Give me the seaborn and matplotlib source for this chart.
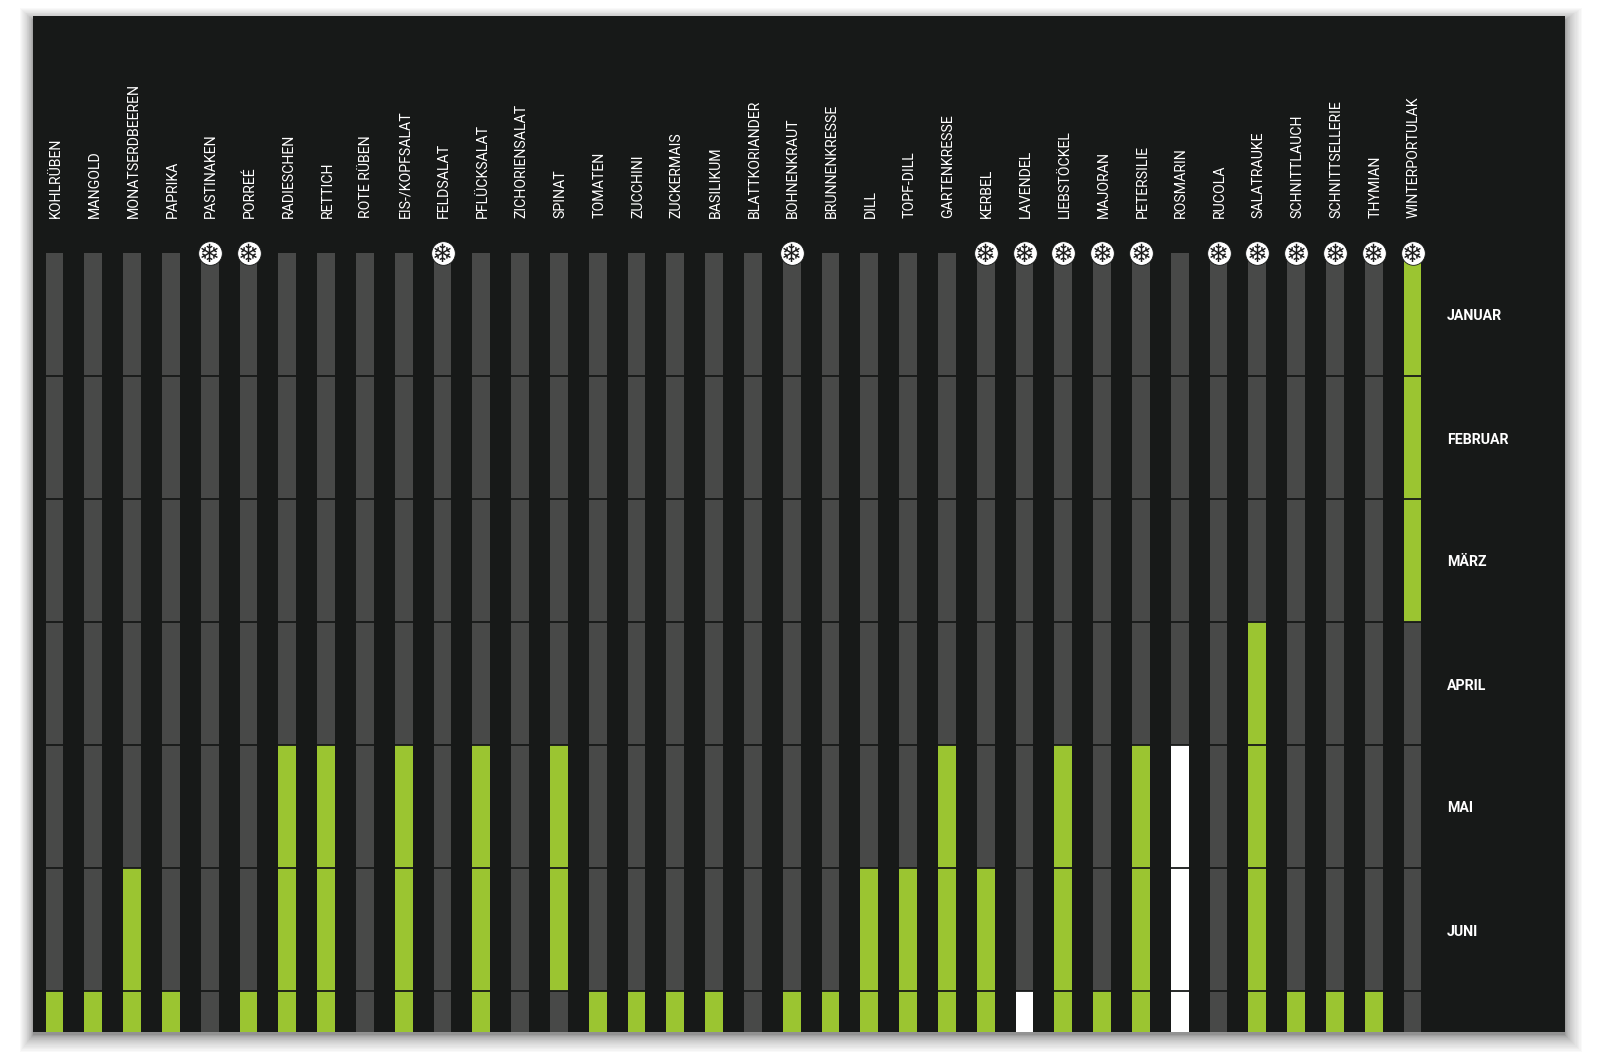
import matplotlib
matplotlib.use('Agg')
import matplotlib.pyplot as plt
from matplotlib.patches import Rectangle
import numpy as np
import pandas as pd
import seaborn as sns

crops = ['KOHLRÜBEN', 'MANGOLD', 'MONATSERDBEEREN', 'PAPRIKA', 'PASTINAKEN', 'PORREÉ',
         'RADIESCHEN', 'RETTICH', 'ROTE RÜBEN', 'EIS-/KOPFSALAT', 'FELDSALAT', 'PFLÜCKSALAT',
         'ZICHORIENSALAT', 'SPINAT', 'TOMATEN', 'ZUCCHINI', 'ZUCKERMAIS', 'BASILIKUM',
         'BLATTKORIANDER', 'BOHNENKRAUT', 'BRUNNENKRESSE', 'DILL', 'TOPF-DILL', 'GARTENKRESSE',
         'KERBEL', 'LAVENDEL', 'LIEBSTÖCKEL', 'MAJORAN', 'PETERSILIE', 'ROSMARIN',
         'RUCOLA', 'SALATRAUKE', 'SCHNITTLAUCH', 'SCHNITTSELLERIE', 'THYMIAN', 'WINTERPORTULAK']
months = ['JANUAR', 'FEBRUAR', 'MÄRZ', 'APRIL', 'MAI', 'JUNI']

# share of each row that is visible, the seventh row is cut off by the panel edge
row_share = [1, 1, 1, 1, 1, 1, 0.333]

green_jan = ['WINTERPORTULAK']
green_feb = ['WINTERPORTULAK']
green_mar = ['WINTERPORTULAK']
green_apr = ['SALATRAUKE']
green_mai = ['RADIESCHEN', 'RETTICH', 'EIS-/KOPFSALAT', 'PFLÜCKSALAT', 'SPINAT', 'GARTENKRESSE',
             'LIEBSTÖCKEL', 'PETERSILIE', 'SALATRAUKE']
green_jun = ['MONATSERDBEEREN', 'RADIESCHEN', 'RETTICH', 'EIS-/KOPFSALAT', 'PFLÜCKSALAT', 'SPINAT',
             'DILL', 'TOPF-DILL', 'GARTENKRESSE', 'KERBEL', 'LIEBSTÖCKEL', 'PETERSILIE', 'SALATRAUKE']
green_jul = ['KOHLRÜBEN', 'MANGOLD', 'MONATSERDBEEREN', 'PAPRIKA', 'PORREÉ', 'RADIESCHEN', 'RETTICH',
             'EIS-/KOPFSALAT', 'PFLÜCKSALAT', 'TOMATEN', 'ZUCCHINI', 'ZUCKERMAIS', 'BASILIKUM',
             'BOHNENKRAUT', 'BRUNNENKRESSE', 'DILL', 'TOPF-DILL', 'GARTENKRESSE', 'KERBEL',
             'LIEBSTÖCKEL', 'MAJORAN', 'PETERSILIE', 'SALATRAUKE', 'SCHNITTLAUCH',
             'SCHNITTSELLERIE', 'THYMIAN']
white_mai = ['ROSMARIN']
white_jun = ['ROSMARIN']
white_jul = ['LAVENDEL', 'ROSMARIN']
frost_hardy = ['PASTINAKEN', 'PORREÉ', 'FELDSALAT', 'BOHNENKRAUT', 'KERBEL', 'LAVENDEL', 'LIEBSTÖCKEL',
               'MAJORAN', 'PETERSILIE', 'RUCOLA', 'SALATRAUKE', 'SCHNITTLAUCH', 'SCHNITTSELLERIE',
               'THYMIAN', 'WINTERPORTULAK']

greens = [green_jan, green_feb, green_mar, green_apr, green_mai, green_jun, green_jul]
whites = [[], [], [], [], white_mai, white_jun, white_jul]

BG = '#171918'
GREY = '#484948'
GREEN = '#9bc531'
palette = {'off': GREY, 'green': GREEN, 'white': '#ffffff'}

rows = []
for m in range(7):
    for c in crops:
        status = 'green' if c in greens[m] else 'white' if c in whites[m] else 'off'
        rows.append({'crop': c, 'row': m, 'status': status, 'share': row_share[m]})
df = pd.DataFrame(rows)

sns.set_theme(style='white')
plt.rcParams['font.family'] = ['Roboto', 'DejaVu Sans']

W, H = 1600, 1060
fig = plt.figure(figsize=(W / 100, H / 100), dpi=100, facecolor='white')

# soft drop shadow of the printed panel, denser near the edge
left, right, top, bottom = 33, 1565, 16, 1032
n_layers = 24
for j in range(n_layers):
    k = (j / (n_layers - 1)) ** 2
    x0, x1 = left - 13 * k, right + 17 * k
    y0, y1 = top + 4 - 12 * k, bottom + 3 + 17 * k
    fig.add_artist(Rectangle((x0 / W, 1 - y1 / H), (x1 - x0) / W, (y1 - y0) / H,
                             transform=fig.transFigure, facecolor='k', edgecolor='none',
                             alpha=0.025, zorder=-5))

ax = fig.add_axes([left / W, 1 - bottom / H, (right - left) / W, (bottom - top) / H], facecolor=BG)
ax.set_zorder(2)

# one layer of bars per month row, stacked downwards
for m in range(7):
    sns.barplot(data=df[df.row == m], x='crop', y='share', hue='status', order=crops,
                hue_order=['off', 'green', 'white'], palette=palette, dodge=False, width=0.454,
                saturation=1, errorbar=None, legend=False, bottom=m, linewidth=0, ax=ax)

step_x, step_y = 38.8, 123
ax.set_xlabel('')
ax.set_ylabel('')
ax.set_xticks([])
ax.set_yticks([])
sns.despine(ax=ax, left=True, bottom=True)

# thin dark gap between the months
ax.hlines(range(1, 7), -0.5, len(crops) - 0.5, color=BG, linewidth=1.3, zorder=5)

for i, c in enumerate(crops):
    ax.text(i + 0.04, -35 / step_y, c, rotation=90, ha='center', va='bottom', color='white', fontsize=10.2)

frost_x = [crops.index(c) for c in frost_hardy]
sns.scatterplot(x=frost_x, y=[0] * len(frost_x), s=290, color='white', edgecolor=BG, linewidth=0.6,
                zorder=6, legend=False, ax=ax)
for x in frost_x:
    ax.text(x, 0, '❄', ha='center', va='center_baseline', fontsize=18, color='#1c1c1c', zorder=7,
            family='DejaVu Sans')

for m, name in enumerate(months):
    ax.text((1447 - 54.5) / step_x, m + 0.5 + 2 / step_y, name, ha='left', va='center', color='white',
            fontsize=10.2, fontweight='bold')

ax.set_xlim((left - 54.5) / step_x, (right - 54.5) / step_x)
ax.set_ylim((bottom - 253) / step_y, (top - 253) / step_y)

fig.savefig('out.png', dpi=100, facecolor='white')
